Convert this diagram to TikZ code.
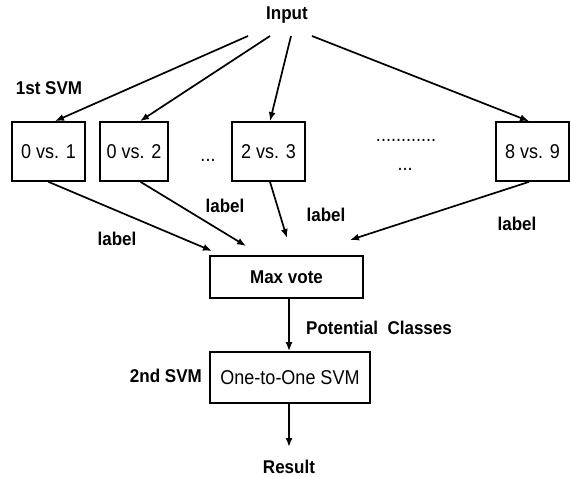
\documentclass[tikz,border=0pt]{standalone}
\usepackage{fontspec}
\setmainfont{Liberation Sans}
\newfontfamily\boxfont{Liberation Sans}[FakeStretch=0.9]
\newfontfamily\tagfont{Liberation Sans}[FakeStretch=0.92]
\usetikzlibrary{arrows.meta}

\tikzset{
  svmbox/.style={draw, line width=1.7pt, minimum width=73pt, minimum height=59pt,
    inner sep=0pt, font=\boxfont\fontsize{20}{22}\selectfont},
  tag/.style={font=\tagfont\bfseries\fontsize{18.5}{20}\selectfont, inner sep=0pt},
  dots/.style={font=\boxfont\fontsize{20}{22}\selectfont, inner sep=0pt, anchor=base},
  flow/.style={-{Latex[length=9pt,width=7pt]}, line width=1.7pt},
}

\begin{document}
\begin{tikzpicture}[x=1pt,y=-1pt]
      \useasboundingbox (0,0) rectangle (571,477);
      \draw
        (287,15) node[tag] (in){Input}
        (49,88) node[tag] (first){1st SVM}
        (48.5,151.5) node[svmbox] (b01){0 vs. 1}
        (134,151.5) node[svmbox, minimum width=68pt] (b02){0 vs. 2}
        (268.5,151.5) node[svmbox] (b23){2 vs. 3}
        (532.5,151.5) node[svmbox] (b89){8 vs. 9}
        (208,161) node[dots] (d1){...}
        (406,141) node[dots] (d2){............}
        (405,170) node[dots] (d3){...}
        (117,239) node[tag] (lab1){label}
        (225,206) node[tag] (lab2){label}
        (326,215) node[tag] (lab3){label}
        (517,224) node[tag] (lab4){label}
        (286.5,277) node[svmbox, minimum width=153pt, minimum height=42pt,
          font=\tagfont\bfseries\fontsize{18.5}{20}\selectfont] (vote){Max vote}
        (306,328) node[tag, anchor=west] (pot){Potential\ \ Classes}
        (290,377.5) node[svmbox, minimum width=160pt, minimum height=51pt] (ovo){One-to-One SVM}
        (202,376) node[tag, anchor=east] (second){2nd SVM}
        (289,467) node[tag] (res){Result};
      % start and end points of the arrows
      \coordinate (i1) at (248,36);
      \coordinate (i2) at (270,36);
      \coordinate (i3) at (291,36);
      \coordinate (i4) at (312,36);
      \coordinate (m1) at (212,251);
      \coordinate (m2) at (246,246);
      \coordinate (m3) at (287,238);
      \coordinate (m4) at (350,240);
      \begin{scope}[flow]
        \draw (i1) to ([xshift=6.5pt]b01.north);
        \draw (i2) to ([xshift=6pt]b02.north);
        \draw (i3) to ([xshift=1.5pt]b23.north);
        \draw (i4) to ([xshift=-3.5pt]b89.north);
        \draw (b01.south) to (m1);
        \draw ([xshift=6.5pt]b02.south) to (m2);
        \draw ([xshift=1.5pt]b23.south) to (m3);
        \draw ([xshift=-3.5pt]b89.south) to (m4);
        \draw ([xshift=2.5pt]vote.south) to ([xshift=-1pt]ovo.north);
        \draw ([xshift=-1pt]ovo.south) to ([yshift=13pt]res.north);
      \end{scope}
    \end{tikzpicture}
\end{document}
